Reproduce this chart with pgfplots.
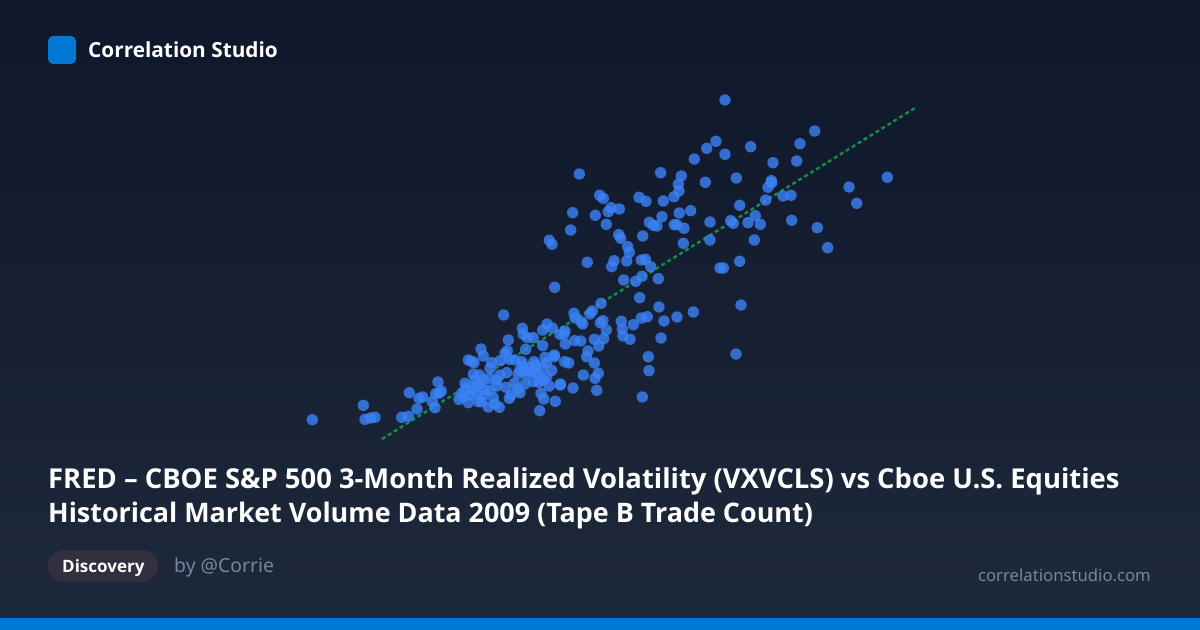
\documentclass[border=0pt]{standalone}
\usepackage{pgfplots}
\pgfplotsset{compat=1.18}
\usepackage{fontspec}
\setmainfont{Noto Sans}
\newfontfamily\boldf{Open Sans}[UprightFont=*-Bold]
\definecolor{bgtop}{RGB}{15,23,42}
\definecolor{bgbot}{RGB}{30,41,59}
\definecolor{brand}{RGB}{0,120,212}
\definecolor{dot}{RGB}{59,130,246}
\definecolor{trend}{RGB}{22,140,70}
\definecolor{pill}{RGB}{52,47,63}
\definecolor{muted}{RGB}{118,133,158}
\newcommand{\px}[1]{\fontsize{#1bp}{#1bp}\selectfont}
\begin{document}
\begin{tikzpicture}
\begin{axis}[
  scale only axis, width=1200bp, height=630bp,
  xmin=0, xmax=1200, ymin=0, ymax=630, y dir=reverse,
  hide axis, clip=false]
\shade[top color=bgtop,bottom color=bgbot] (axis cs:0,0) rectangle (axis cs:1200,630);
\fill[brand] (axis cs:0,618) rectangle (axis cs:1200,630);
\fill[brand,rounded corners=5bp] (axis cs:48,36) rectangle (axis cs:76,64);
\node[anchor=base west,inner sep=0,text=white] at (axis cs:88,57.5) {\boldf\px{20.8}Correlation Studio};
\node[anchor=base west,inner sep=0,text=white] at (axis cs:48,488) {\boldf\px{27.4}FRED – CBOE S\&P 500 3-Month Realized Volatility (VXVCLS) vs Cboe U.S. Equities};
\node[anchor=base west,inner sep=0,text=white] at (axis cs:48,522) {\boldf\px{26.9}Historical Market Volume Data 2009 (Tape B Trade Count)};
\fill[pill,rounded corners=15.9bp] (axis cs:48,550) rectangle (axis cs:158,582);
\node[anchor=base west,inner sep=0,text=white] at (axis cs:62,572.5) {\boldf\px{17}Discovery};
\node[anchor=base west,inner sep=0,text=muted] at (axis cs:174,572.5) {\px{19.4}by @Corrie};
\node[anchor=base east,inner sep=0,text=muted] at (axis cs:1151,581.5) {\px{16.7}correlationstudio.com};
\addplot[trend,line width=2.4bp,dash pattern=on 4bp off 3bp,no marks] coordinates {(382,439) (915,108)};
\addplot[color=dot,only marks,mark=*,mark size=5.7bp,mark options={solid,line width=0pt,draw=dot,draw opacity=0,fill=dot,fill opacity=0.8}] table[row sep=\\] {
x y\\
312.3 419.7\\363.3 405.3\\365 419.3\\370.7 418\\375 417.3\\401.7 417.3\\408.3 416.3\\409.3 392.7\\417 409\\419 398.3\\422.7 397\\432.3 401.7\\435 407.7\\435.7 393.7\\441.3 391\\438 382\\439.3 393\\
503.7 315\\574 313.3\\575 318\\581 321.7\\582.7 324\\590 314\\592.3 311\\601 303.3\\600.3 322.7\\603 320.7\\621.3 321.3\\622.3 329\\623 336\\630 339.3\\633.3 324.7\\641.3 318\\647.3 316.7\\606.3 330\\594.3 339.3\\603.7 338.7\\598.7 346\\574.7 340.7\\580.7 341\\565.3 344\\565 331\\564 334\\560 334.3\\552.3 328\\547 324\\542.7 330\\542.7 345.7\\533.3 337.7\\527.3 337.7\\523.3 334.3\\522.3 328.3\\525.7 349.3\\508.3 340\\481 349\\483.3 356\\468.3 360\\471.7 361.3\\474 362.7\\507.3 350.7\\505 353.3\\491.7 362.7\\500 360.7\\490 368.3\\509.3 359.3\\515 360\\521.7 361.7\\534 361.7\\536 365\\545 357.3\\554.3 355\\554.3 356.7\\546.7 362.7\\564.7 361.7\\568.7 363\\588 351\\586.7 356.7\\594.3 363\\598.3 373.3\\595 378.3\\583.3 375\\551.7 370.3\\546.7 376.7\\543.3 380\\537.3 374\\531 371.7\\525 370.7\\520 370\\506.7 372.7\\500 375\\473.3 374\\479.3 375\\465 383.3\\475 380\\483.3 380\\490 378.3\\496.7 380\\496.7 386\\506 387.3\\514.3 383.3\\525 384\\533.3 381.7\\539.3 382.3\\549.3 386\\560.3 385\\560.3 384\\573 388\\596.7 390.3\\642.3 397\\555.3 401.3\\543.7 399\\541 393.3\\539.7 410.7\\520 392.7\\517.7 389.3\\509.3 398.3\\511 395\\499.3 407.3\\495 404\\493.3 397.3\\488.3 407\\481.7 401.7\\478.3 401.7\\485 390\\476.7 393.3\\468.3 402.7\\459 399.3\\463.3 396.7\\461.7 393.3\\648.3 356.7\\649 370.7\\
523 366\\530 367\\518 374\\526 374\\480 384\\477 386\\472 390\\483 396\\490 390\\466 388\\470 395\\535 372\\542 368\\
579.3 174\\660.7 172.7\\694.3 159\\681.3 176\\705.3 182.3\\678.3 184.3\\679 191\\674 196.7\\663.3 201\\639 197.3\\646 201.3\\599.7 195.3\\603.3 198.3\\611 207.7\\608.3 211.7\\619.3 209\\572.7 212.7\\595.3 215.3\\606.3 224.3\\570.7 230\\549.3 240.3\\552 244.3\\618.7 234.7\\620.7 238.3\\627.7 246.7\\629.3 252.3\\614 260.7\\611.7 266.7\\626.7 261\\587.3 262.3\\641.3 260\\645.3 259.3\\650.7 266.7\\642.7 236\\649.3 222.3\\653.3 225.3\\657 226\\662 216.7\\679.3 213\\690.7 210.7\\674.3 224.7\\676.7 224.7\\684 228.3\\683.3 243.3\\658.3 278.7\\642 276.3\\635.7 281.3\\623.7 280\\554.7 287.3\\639.7 297.7\\659 307\\
725 100\\814.7 131\\800 143.7\\716 141.3\\706.7 148.3\\725 154.3\\750.7 146.7\\796.7 161\\773 162.7\\736.3 178\\887.3 177.3\\849 187\\771.3 180.7\\771.7 182.7\\768 187.3\\856.7 203.3\\791 195.3\\783 196\\765.7 200\\739.7 205.3\\755.3 215.7\\710 222\\730.7 220.7\\733.3 223.3\\748 222.7\\760.3 224.3\\791.7 220.3\\817.3 227.7\\710 240\\754.3 240\\827.7 247.7\\739.7 261.3\\720 268\\723.3 268\\741 305\\736 354\\693.3 312\\677 317\\664 321\\661 338\\
};
\end{axis}
\end{tikzpicture}
\end{document}
